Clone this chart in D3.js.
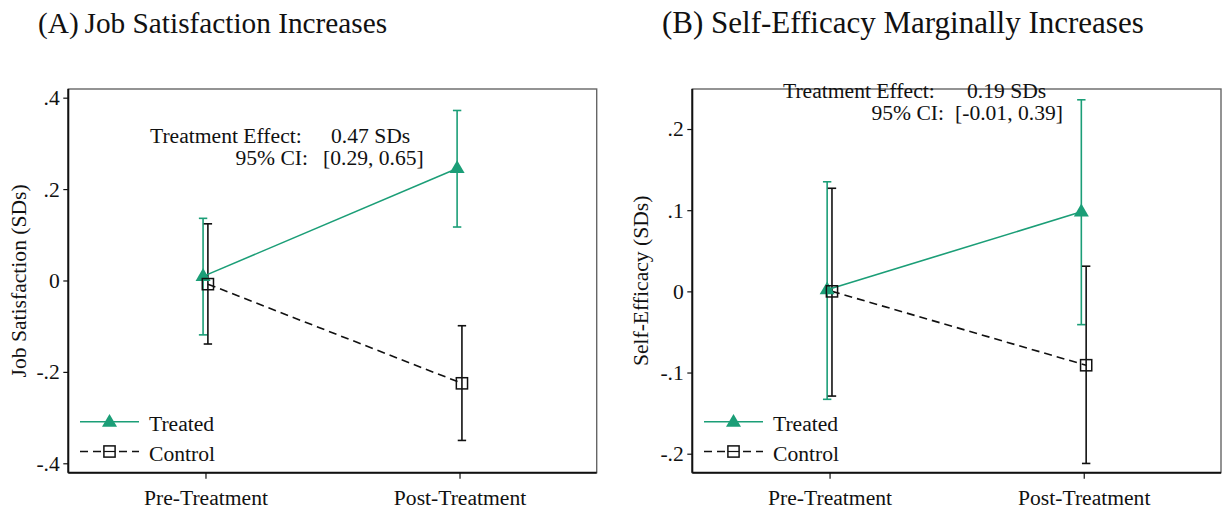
<!DOCTYPE html>
<html>
<head>
<meta charset="utf-8">
<script src="https://cdn.jsdelivr.net/npm/d3@7"></script>
<style>
  html, body { margin: 0; padding: 0; background: #fff; }
  svg { display: block; }
  text { font-family: "Liberation Serif", "Times New Roman", serif; fill: #111; }
</style>
</head>
<body>
<svg id="chart" width="1225" height="510"></svg>
<script>
// ---------- data ----------
const periods = ["Pre-Treatment", "Post-Treatment"];
const seriesNames = ["Treated", "Control"];

// Panel A: Job satisfaction (SDs)
const jobTreatedMean = [0.009, 0.245];
const jobTreatedLo   = [-0.119, 0.117];
const jobTreatedHi   = [0.136, 0.372];
const jobControlMean = [-0.008, -0.225];
const jobControlLo   = [-0.139, -0.350];
const jobControlHi   = [0.124, -0.099];
const jobTicks       = [-0.4, -0.2, 0, 0.2, 0.4];
const jobTickLabels  = ["-.4", "-.2", "0", ".2", ".4"];
const jobDomain      = [-0.4206, 0.419];

// Panel B: Self-efficacy (SDs)
const effTreatedMean = [0.002, 0.098];
const effTreatedLo   = [-0.133, -0.041];
const effTreatedHi   = [0.135, 0.236];
const effControlMean = [0.000, -0.091];
const effControlLo   = [-0.129, -0.212];
const effControlHi   = [0.127, 0.031];
const effTicks       = [-0.2, -0.1, 0, 0.1, 0.2];
const effTickLabels  = ["-.2", "-.1", "0", ".1", ".2"];
const effDomain      = [-0.2234, 0.2493];

const panels = [
  {
    title: "(A)\u2009Job Satisfaction Increases", titleX: 38, titleSize: 29.3,
    ylabel: "Job Satisfaction (SDs)", ylabelX: 26,
    left: 68.3, right: 596.7,
    treated: {mean: jobTreatedMean, lo: jobTreatedLo, hi: jobTreatedHi},
    control: {mean: jobControlMean, lo: jobControlLo, hi: jobControlHi},
    ticks: jobTicks, tickLabels: jobTickLabels, domain: jobDomain,
    effect: ["Treatment Effect:", "0.47 SDs", "95% CI:", "[0.29, 0.65]"],
    effPos: {x1: 150, x2: 331, xe: 308, x3: 323, y1: 143, y2: 165}
  },
  {
    title: "(B) Self-Efficacy Marginally Increases", titleX: 662, titleSize: 31,
    ylabel: "Self-Efficacy (SDs)", ylabelX: 648,
    left: 692.3, right: 1221,
    treated: {mean: effTreatedMean, lo: effTreatedLo, hi: effTreatedHi},
    control: {mean: effControlMean, lo: effControlLo, hi: effControlHi},
    ticks: effTicks, tickLabels: effTickLabels, domain: effDomain,
    effect: ["Treatment Effect:", "0.19 SDs", "95% CI:", "[-0.01, 0.39]"],
    effPos: {x1: 783, x2: 967, xe: 944, x3: 955, y1: 98, y2: 120}
  }
];

const GREEN = "#1b9e77";
const BLACK = "#111";
const FS = "21.6px";
const plotTop = 89, plotBottom = 472.7;
const svg = d3.select("#chart");

function triPath(cx, cy) {
  return `M${cx},${cy - 8.3}L${cx + 7.5},${cy + 4.6}L${cx - 7.5},${cy + 4.6}Z`;
}

panels.forEach(p => {
  const g = svg.append("g");
  const x = d3.scaleLinear().domain([-0.54, 1.54]).range([p.left, p.right]);
  const y = d3.scaleLinear().domain(p.domain).range([plotBottom, plotTop]);
  const offs = {Treated: -0.0095, Control: 0.0095};

  // title
  g.append("text").attr("x", p.titleX).attr("y", 33)
    .style("font-size", p.titleSize + "px").text(p.title);

  // frame
  g.append("rect").attr("x", p.left).attr("y", plotTop)
    .attr("width", p.right - p.left).attr("height", plotBottom - plotTop)
    .attr("fill", "none").attr("stroke", "#666").attr("stroke-width", 1.4);

  // y axis
  const ya = d3.axisLeft(y).tickValues(p.ticks)
    .tickFormat((d, i) => p.tickLabels[i]).tickSize(5).tickPadding(3.5);
  const yg = g.append("g").attr("transform", `translate(${p.left},0)`).call(ya);
  yg.select(".domain").attr("d", `M0,${plotTop}V${plotBottom}`).attr("stroke", BLACK).attr("stroke-width", 2);
  yg.selectAll(".tick line").attr("stroke", BLACK).attr("stroke-width", 1.2);
  yg.selectAll(".tick text").style("font-size", FS).attr("fill", "#111")
    .style("font-family", '"Liberation Serif", serif');

  // x axis
  const xa = d3.axisBottom(x).tickValues([0, 1])
    .tickFormat((d, i) => periods[i]).tickSize(6).tickPadding(10.5);
  const xg = g.append("g").attr("transform", `translate(0,${plotBottom})`).call(xa);
  xg.select(".domain").attr("d", `M${p.left},0H${p.right}`).attr("stroke", BLACK).attr("stroke-width", 2);
  xg.selectAll(".tick line").attr("stroke", BLACK).attr("stroke-width", 1.2);
  xg.selectAll(".tick text").style("font-size", FS).attr("fill", "#111")
    .style("font-family", '"Liberation Serif", serif');

  // y label
  g.append("text")
    .attr("transform", `translate(${p.ylabelX},${(plotTop + plotBottom) / 2}) rotate(-90)`)
    .attr("text-anchor", "middle").style("font-size", FS).text(p.ylabel);

  // confidence intervals
  const series = [
    {name: "Treated", d: p.treated, color: GREEN},
    {name: "Control", d: p.control, color: BLACK}
  ];
  series.forEach(s => {
    periods.forEach((per, i) => {
      const cx = x(i + offs[s.name]);
      g.append("line").attr("x1", cx).attr("x2", cx)
        .attr("y1", y(s.d.lo[i])).attr("y2", y(s.d.hi[i]))
        .attr("stroke", s.color).attr("stroke-width", 1.6);
      [s.d.lo[i], s.d.hi[i]].forEach(v => {
        g.append("line").attr("x1", cx - 4.2).attr("x2", cx + 4.2)
          .attr("y1", y(v)).attr("y2", y(v))
          .attr("stroke", s.color).attr("stroke-width", 1.6);
      });
    });
  });

  // connecting lines
  const line = d3.line().x(d => x(d[0])).y(d => y(d[1]));
  series.forEach(s => {
    const pts = s.d.mean.map((v, i) => [i + offs[s.name], v]);
    g.append("path").attr("d", line(pts)).attr("fill", "none")
      .attr("stroke", s.color).attr("stroke-width", 1.6)
      .attr("stroke-dasharray", s.name === "Control" ? "8,5" : null);
  });

  // markers
  p.treated.mean.forEach((v, i) => {
    g.append("path").attr("d", triPath(x(i + offs.Treated), y(v))).attr("fill", GREEN);
  });
  p.control.mean.forEach((v, i) => {
    const cx = x(i + offs.Control), cy = y(v);
    g.append("rect").attr("x", cx - 5.6).attr("y", cy - 5.6)
      .attr("width", 11.2).attr("height", 11.2)
      .attr("fill", "none").attr("stroke", BLACK).attr("stroke-width", 1.5);
  });

  // treatment effect annotation
  const e = p.effPos;
  g.append("text").attr("x", e.x1).attr("y", e.y1).style("font-size", FS).text(p.effect[0]);
  g.append("text").attr("x", e.x2).attr("y", e.y1).style("font-size", FS).text(p.effect[1]);
  g.append("text").attr("x", e.xe).attr("y", e.y2).attr("text-anchor", "end").style("font-size", FS).text(p.effect[2]);
  g.append("text").attr("x", e.x3).attr("y", e.y2).style("font-size", FS).text(p.effect[3]);

  // legend
  const lx0 = p.left + 11.7, lx1 = lx0 + 59, lmid = (lx0 + lx1) / 2;
  const ly1 = 421.7, ly2 = 451.5;
  g.append("line").attr("x1", lx0).attr("x2", lx1).attr("y1", ly1).attr("y2", ly1)
    .attr("stroke", GREEN).attr("stroke-width", 1.6);
  g.append("path").attr("d", triPath(lmid, ly1 + 0.5)).attr("fill", GREEN);
  g.append("text").attr("x", lx1 + 10).attr("y", ly1 + 9).style("font-size", FS).text(seriesNames[0]);
  g.append("line").attr("x1", lx0).attr("x2", lx1).attr("y1", ly2).attr("y2", ly2)
    .attr("stroke", BLACK).attr("stroke-width", 1.5).attr("stroke-dasharray", "8,5");
  g.append("rect").attr("x", lmid - 5.6).attr("y", ly2 - 5.6).attr("width", 11.2).attr("height", 11.2)
    .attr("fill", "#fff").attr("stroke", BLACK).attr("stroke-width", 1.5);
  g.append("line").attr("x1", lmid - 5.6).attr("x2", lmid + 5.6).attr("y1", ly2).attr("y2", ly2)
    .attr("stroke", BLACK).attr("stroke-width", 1.2);
  g.append("text").attr("x", lx1 + 10).attr("y", ly2 + 9).style("font-size", FS).text(seriesNames[1]);
});
</script>
</body>
</html>
